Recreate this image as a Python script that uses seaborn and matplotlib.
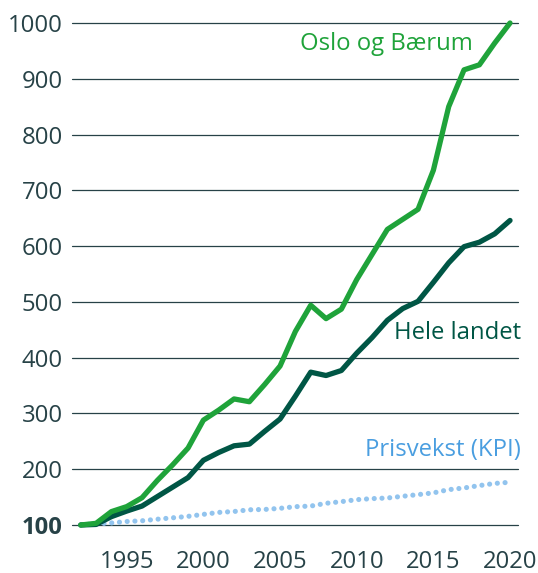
import matplotlib
matplotlib.use("Agg")
import matplotlib.pyplot as plt
import seaborn as sns
import pandas as pd

# Index, 1992 = 100
years = list(range(1992, 2021))
oslo_baerum = [100, 103, 124, 133, 149, 180, 208, 238, 288, 306, 326, 321, 352, 385, 447, 494,
               470, 487, 540, 585, 630, 648, 666, 736, 850, 916, 925, 964, 1000]
hele_landet = [100, 101, 115, 125, 134, 151, 168, 185, 216, 230, 242, 245, 268, 290, 331, 374,
               368, 377, 408, 436, 467, 488, 501, 535, 570, 599, 607, 622, 646]
kpi = [100, 102.3, 103.7, 106.3, 107.6, 110.4, 112.9, 115.5, 119.1, 122.6, 124.2, 127.3, 127.9,
       129.9, 132.9, 133.9, 138.9, 141.9, 145.4, 147.3, 148.4, 151.5, 154.5, 157.6, 163.4, 166.4,
       170.7, 174.5, 176.7]

y_ticks = [100, 200, 300, 400, 500, 600, 700, 800, 900, 1000]
x_ticks = [1995, 2000, 2005, 2010, 2015, 2020]

df = pd.DataFrame({"år": years, "Oslo og Bærum": oslo_baerum,
                   "Hele landet": hele_landet, "Prisvekst (KPI)": kpi})

sns.set_theme(style="white")
plt.rcParams["font.family"] = ["Open Sans", "DejaVu Sans"]

GREEN = "#1fa33a"
DARK = "#005645"
BLUE_LINE = "#92c4ee"
BLUE_TEXT = "#4a9ee0"
INK = "#274247"
FS = 17.2

fig = plt.figure(figsize=(5.38, 5.73), dpi=100)
ax = fig.add_axes([72 / 538, (573 - 525) / 573, (518 - 72) / 538, (525 - 23) / 573])

for yv in y_ticks:
    ax.axhline(yv, color=INK, lw=0.9, zorder=1)

sns.lineplot(data=df, x="år", y="Prisvekst (KPI)", ax=ax, color=BLUE_LINE, lw=3.7,
             linestyle=(0, (0.01, 1.5)), dash_capstyle="round", zorder=2)
sns.lineplot(data=df, x="år", y="Hele landet", ax=ax, color=DARK, lw=3.8,
             solid_capstyle="round", solid_joinstyle="round", zorder=3)
sns.lineplot(data=df, x="år", y="Oslo og Bærum", ax=ax, color=GREEN, lw=3.8,
             solid_capstyle="round", solid_joinstyle="round", zorder=4)
for ln in ax.lines:
    ln.set_clip_on(False)

ax.set_xlim(1991.43, 2020.52)
ax.set_ylim(100, 1000)
ax.set_xlabel("")
ax.set_ylabel("")

ax.set_yticks(y_ticks)
ax.set_yticklabels([str(v) for v in y_ticks])
ax.tick_params(axis="y", length=0, pad=6.5, labelsize=FS, labelcolor=INK)
ax.get_yticklabels()[0].set_fontweight("bold")

ax.set_xticks([1992.6] + x_ticks)
ax.set_xticklabels([""] + [str(v) for v in x_ticks])
ax.tick_params(axis="x", length=9, width=1.2, color=INK, pad=9, labelsize=FS,
               labelcolor=INK, direction="out")

for s in ax.spines.values():
    s.set_visible(False)

ax.text(2017.6, 962, "Oslo og Bærum", color=GREEN, fontsize=FS, ha="right", va="center")
ax.text(2020.7, 444, "Hele landet", color=DARK, fontsize=FS, ha="right", va="center")
ax.text(2020.7, 234, "Prisvekst (KPI)", color=BLUE_TEXT, fontsize=FS, ha="right", va="center")

fig.savefig("out.png", dpi=100)
